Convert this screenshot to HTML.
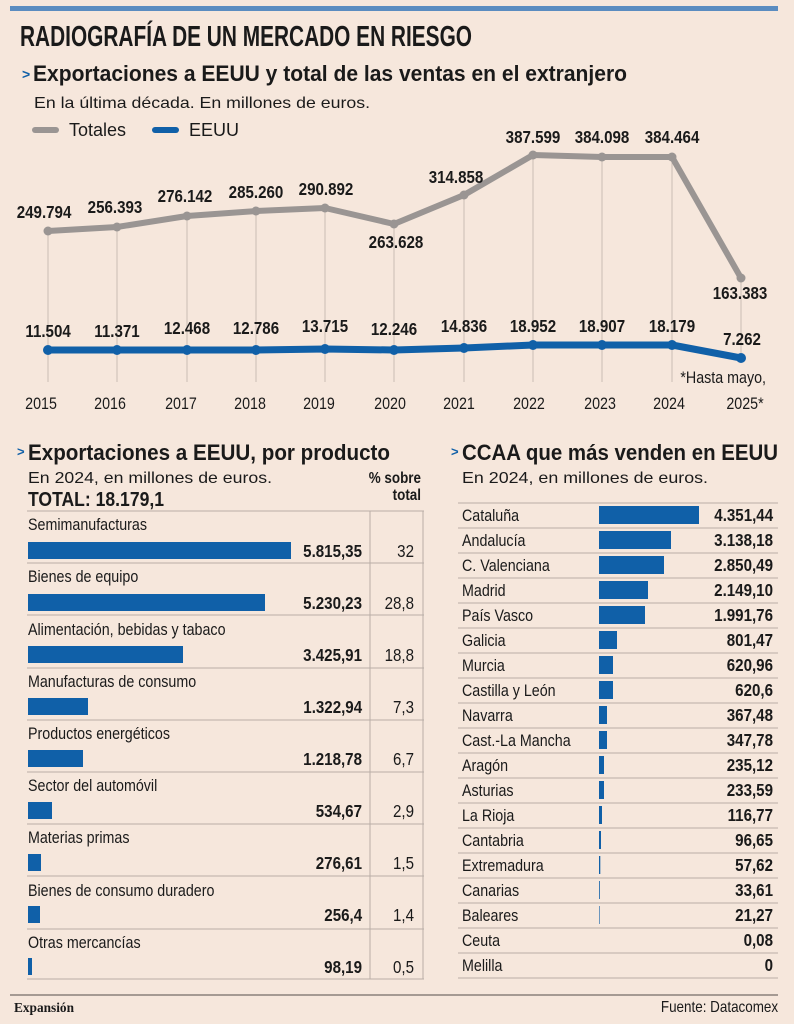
<!DOCTYPE html>
<html><head><meta charset="utf-8"><style>
html,body{margin:0;padding:0;background:#f6e7dc;}
svg{display:block}
text{font-family:"Liberation Sans Narrow","Liberation Sans",sans-serif;fill:#1a1a1a}
.b{font-weight:bold}
.cs text{transform:scaleX(.84);transform-box:fill-box;transform-origin:left center}
.cm text{transform:scaleX(.84);transform-box:fill-box;transform-origin:center center}
.ce text{transform:scaleX(.84);transform-box:fill-box;transform-origin:right center}
</style></head><body>
<svg width="794" height="1024" viewBox="0 0 794 1024" xmlns="http://www.w3.org/2000/svg">
<rect width="794" height="1024" fill="#f6e7dc"/>
<rect x="10" y="6" width="768" height="5" fill="#5b8cc0"/>
<text x="20" y="46" class="b" font-size="29" textLength="452" lengthAdjust="spacingAndGlyphs">RADIOGRAFÍA DE UN MERCADO EN RIESGO</text>
<text x="22" y="79" font-size="14" style="fill:#1060a8" class="b">&gt;</text>
<text x="33" y="81" class="b" font-size="22" textLength="594" lengthAdjust="spacingAndGlyphs">Exportaciones a EEUU y total de las ventas en el extranjero</text>
<text x="34" y="108" font-size="16" textLength="336" lengthAdjust="spacingAndGlyphs">En la última década. En millones de euros.</text>
<line x1="35" y1="130" x2="56" y2="130" stroke="#9a9593" stroke-width="6" stroke-linecap="round"/>
<text x="69" y="136" font-size="18">Totales</text>
<line x1="155" y1="130" x2="176" y2="130" stroke="#1060a8" stroke-width="6" stroke-linecap="round"/>
<text x="189" y="136" font-size="18">EEUU</text>
<g stroke="#c9bdb5" stroke-width="1">
<line x1="48" y1="231" x2="48" y2="382"/><line x1="117" y1="227" x2="117" y2="382"/><line x1="187" y1="216" x2="187" y2="382"/><line x1="256" y1="211" x2="256" y2="382"/><line x1="325" y1="208" x2="325" y2="382"/><line x1="394" y1="224" x2="394" y2="382"/><line x1="464" y1="195" x2="464" y2="382"/><line x1="533" y1="155" x2="533" y2="382"/><line x1="602" y1="157" x2="602" y2="382"/><line x1="672" y1="157" x2="672" y2="382"/><line x1="741" y1="278" x2="741" y2="360"/>
</g>
<polyline points="48,231 117,227 187,216 256,211 325,208 394,224 464,195 533,155 602,157 672,157 741,278" fill="none" stroke="#9a9593" stroke-width="6" stroke-linejoin="round"/>
<g fill="#9a9593"><circle cx="48" cy="231" r="4.5"/><circle cx="117" cy="227" r="4.5"/><circle cx="187" cy="216" r="4.5"/><circle cx="256" cy="211" r="4.5"/><circle cx="325" cy="208" r="4.5"/><circle cx="394" cy="224" r="4.5"/><circle cx="464" cy="195" r="4.5"/><circle cx="533" cy="155" r="4.5"/><circle cx="602" cy="157" r="4.5"/><circle cx="672" cy="157" r="4.5"/><circle cx="741" cy="278" r="4.5"/></g>
<polyline points="48,350 117,350 187,350 256,350 325,349 394,350 464,348 533,345 602,345 672,345 741,358" fill="none" stroke="#1060a8" stroke-width="7" stroke-linejoin="round"/>
<g fill="#1060a8"><circle cx="48" cy="350" r="5"/><circle cx="117" cy="350" r="5"/><circle cx="187" cy="350" r="5"/><circle cx="256" cy="350" r="5"/><circle cx="325" cy="349" r="5"/><circle cx="394" cy="350" r="5"/><circle cx="464" cy="348" r="5"/><circle cx="533" cy="345" r="5"/><circle cx="602" cy="345" r="5"/><circle cx="672" cy="345" r="5"/><circle cx="741" cy="358" r="5"/></g>
<g class="b cm" font-size="18" text-anchor="middle">
<text x="44" y="218">249.794</text><text x="115" y="213">256.393</text><text x="185" y="202">276.142</text><text x="256" y="198">285.260</text><text x="326" y="195">290.892</text><text x="396" y="248">263.628</text><text x="456" y="183">314.858</text><text x="533" y="143">387.599</text><text x="602" y="143">384.098</text><text x="672" y="143">384.464</text><text x="740" y="299">163.383</text>
<text x="48" y="337">11.504</text><text x="117" y="337">11.371</text><text x="187" y="334">12.468</text><text x="256" y="334">12.786</text><text x="325" y="332">13.715</text><text x="394" y="335">12.246</text><text x="464" y="332">14.836</text><text x="533" y="332">18.952</text><text x="602" y="332">18.907</text><text x="672" y="332">18.179</text><text x="742" y="345">7.262</text>
</g>
<g class="ce"><text x="766" y="383" font-size="17" text-anchor="end">*Hasta mayo,</text></g>
<g font-size="17" text-anchor="middle" class="cm">
<text x="41" y="409">2015</text><text x="110" y="409">2016</text><text x="181" y="409">2017</text><text x="250" y="409">2018</text><text x="319" y="409">2019</text><text x="390" y="409">2020</text><text x="459" y="409">2021</text><text x="529" y="409">2022</text><text x="600" y="409">2023</text><text x="669" y="409">2024</text><text x="745" y="409">2025*</text>
</g>
<!-- Left table -->
<text x="17" y="456" font-size="13" style="fill:#1060a8" class="b">&gt;</text>
<text x="28" y="460" class="b" font-size="22" textLength="362" lengthAdjust="spacingAndGlyphs">Exportaciones a EEUU, por producto</text>
<text x="28" y="483" font-size="16" textLength="244" lengthAdjust="spacingAndGlyphs">En 2024, en millones de euros.</text>
<text x="28" y="506" class="b" font-size="20" textLength="136" lengthAdjust="spacingAndGlyphs">TOTAL: 18.179,1</text>
<g class="ce">
<text x="421" y="483" class="b" font-size="16" text-anchor="end">% sobre</text>
<text x="421" y="500" class="b" font-size="16" text-anchor="end">total</text>
</g>
<g stroke="#b9aea6" stroke-width="1">
<line x1="27" y1="511" x2="424" y2="511"/><line x1="27" y1="563" x2="424" y2="563"/><line x1="27" y1="615" x2="424" y2="615"/><line x1="27" y1="668" x2="424" y2="668"/><line x1="27" y1="720" x2="424" y2="720"/><line x1="27" y1="772" x2="424" y2="772"/><line x1="27" y1="824" x2="424" y2="824"/><line x1="27" y1="876" x2="424" y2="876"/><line x1="27" y1="929" x2="424" y2="929"/><line x1="27" y1="979" x2="424" y2="979"/>
<line x1="370" y1="511" x2="370" y2="979"/><line x1="423" y1="511" x2="423" y2="979"/>
</g>
<g font-size="17" class="cs">
<text x="28" y="530">Semimanufacturas</text><text x="28" y="582">Bienes de equipo</text><text x="28" y="635">Alimentación, bebidas y tabaco</text><text x="28" y="687">Manufacturas de consumo</text><text x="28" y="739">Productos energéticos</text><text x="28" y="791">Sector del automóvil</text><text x="28" y="843">Materias primas</text><text x="28" y="896">Bienes de consumo duradero</text><text x="28" y="948">Otras mercancías</text>
</g>
<g fill="#1060a8">
<rect x="28" y="542" width="263" height="17"/><rect x="28" y="594" width="237" height="17"/><rect x="28" y="646" width="155" height="17"/><rect x="28" y="698" width="60" height="17"/><rect x="28" y="750" width="55" height="17"/><rect x="28" y="802" width="24" height="17"/><rect x="28" y="854" width="13" height="17"/><rect x="28" y="906" width="12" height="17"/><rect x="28" y="958" width="4" height="17"/>
</g>
<g class="b ce" font-size="18" text-anchor="end">
<text x="362" y="557">5.815,35</text><text x="362" y="609">5.230,23</text><text x="362" y="661">3.425,91</text><text x="362" y="713">1.322,94</text><text x="362" y="765">1.218,78</text><text x="362" y="817">534,67</text><text x="362" y="869">276,61</text><text x="362" y="921">256,4</text><text x="362" y="973">98,19</text>
</g>
<g font-size="18" text-anchor="end" class="ce">
<text x="414" y="557">32</text><text x="414" y="609">28,8</text><text x="414" y="661">18,8</text><text x="414" y="713">7,3</text><text x="414" y="765">6,7</text><text x="414" y="817">2,9</text><text x="414" y="869">1,5</text><text x="414" y="921">1,4</text><text x="414" y="973">0,5</text>
</g>
<!-- Right table -->
<text x="451" y="456" font-size="13" style="fill:#1060a8" class="b">&gt;</text>
<text x="462" y="460" class="b" font-size="22" textLength="316" lengthAdjust="spacingAndGlyphs">CCAA que más venden en EEUU</text>
<text x="462" y="483" font-size="16" textLength="246" lengthAdjust="spacingAndGlyphs">En 2024, en millones de euros.</text>
<g stroke="#b9aea6" stroke-width="1">
<line x1="458" y1="503" x2="778" y2="503"/><line x1="458" y1="528" x2="778" y2="528"/><line x1="458" y1="553" x2="778" y2="553"/><line x1="458" y1="578" x2="778" y2="578"/><line x1="458" y1="603" x2="778" y2="603"/><line x1="458" y1="628" x2="778" y2="628"/><line x1="458" y1="653" x2="778" y2="653"/><line x1="458" y1="678" x2="778" y2="678"/><line x1="458" y1="703" x2="778" y2="703"/><line x1="458" y1="728" x2="778" y2="728"/><line x1="458" y1="753" x2="778" y2="753"/><line x1="458" y1="778" x2="778" y2="778"/><line x1="458" y1="803" x2="778" y2="803"/><line x1="458" y1="828" x2="778" y2="828"/><line x1="458" y1="853" x2="778" y2="853"/><line x1="458" y1="878" x2="778" y2="878"/><line x1="458" y1="903" x2="778" y2="903"/><line x1="458" y1="928" x2="778" y2="928"/><line x1="458" y1="953" x2="778" y2="953"/><line x1="458" y1="978" x2="778" y2="978"/>
</g>
<g font-size="17" class="cs">
<text x="462" y="521">Cataluña</text><text x="462" y="546">Andalucía</text><text x="462" y="571">C. Valenciana</text><text x="462" y="596">Madrid</text><text x="462" y="621">País Vasco</text><text x="462" y="646">Galicia</text><text x="462" y="671">Murcia</text><text x="462" y="696">Castilla y León</text><text x="462" y="721">Navarra</text><text x="462" y="746">Cast.-La Mancha</text><text x="462" y="771">Aragón</text><text x="462" y="796">Asturias</text><text x="462" y="821">La Rioja</text><text x="462" y="846">Cantabria</text><text x="462" y="871">Extremadura</text><text x="462" y="896">Canarias</text><text x="462" y="921">Baleares</text><text x="462" y="946">Ceuta</text><text x="462" y="971">Melilla</text>
</g>
<g fill="#1060a8">
<rect x="599" y="506" width="100" height="18"/><rect x="599" y="531" width="72" height="18"/><rect x="599" y="556" width="65" height="18"/><rect x="599" y="581" width="49" height="18"/><rect x="599" y="606" width="46" height="18"/><rect x="599" y="631" width="18" height="18"/><rect x="599" y="656" width="14" height="18"/><rect x="599" y="681" width="14" height="18"/><rect x="599" y="706" width="8" height="18"/><rect x="599" y="731" width="8" height="18"/><rect x="599" y="756" width="5" height="18"/><rect x="599" y="781" width="5" height="18"/><rect x="599" y="806" width="3" height="18"/><rect x="599" y="831" width="2" height="18"/><rect x="599" y="856" width="1.3" height="18"/><rect x="599" y="881" width="0.8" height="18"/><rect x="599" y="906" width="0.6" height="18"/>
</g>
<g class="b ce" font-size="18" text-anchor="end">
<text x="773" y="521">4.351,44</text><text x="773" y="546">3.138,18</text><text x="773" y="571">2.850,49</text><text x="773" y="596">2.149,10</text><text x="773" y="621">1.991,76</text><text x="773" y="646">801,47</text><text x="773" y="671">620,96</text><text x="773" y="696">620,6</text><text x="773" y="721">367,48</text><text x="773" y="746">347,78</text><text x="773" y="771">235,12</text><text x="773" y="796">233,59</text><text x="773" y="821">116,77</text><text x="773" y="846">96,65</text><text x="773" y="871">57,62</text><text x="773" y="896">33,61</text><text x="773" y="921">21,27</text><text x="773" y="946">0,08</text><text x="773" y="971">0</text>
</g>
<line x1="10" y1="995" x2="778" y2="995" stroke="#8a817b" stroke-width="1.5"/>
<text x="14" y="1012" font-size="14" class="b" style="font-family:'Liberation Serif',serif" textLength="60" lengthAdjust="spacingAndGlyphs">Expansión</text>
<g class="ce"><text x="778" y="1012" font-size="16" text-anchor="end">Fuente: Datacomex</text></g>
</svg>
</body></html>
